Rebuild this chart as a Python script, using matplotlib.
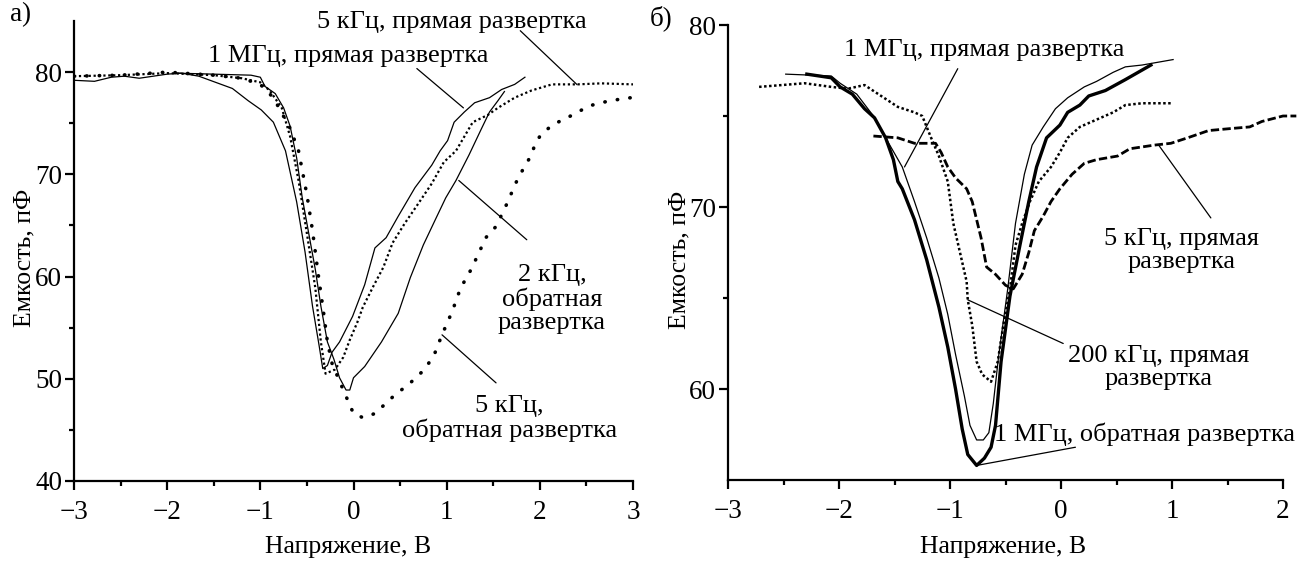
import matplotlib
matplotlib.use("Agg")
import matplotlib.pyplot as plt

plt.rcParams['font.family'] = ['Liberation Serif', 'DejaVu Serif']

# ---------------- Panel a) data ----------------
a_1mhz_fwd_x = [-3.0, -2.78, -2.6, -2.46, -2.3, -2.0, -1.85, -1.66, -1.48, -1.3, -1.13, -0.99, -0.86,
                -0.73, -0.61, -0.52, -0.44, -0.37, -0.33, -0.28, -0.23, -0.15, -0.01, 0.12, 0.23,
                0.35, 0.48, 0.66, 0.84, 0.93, 1.01, 1.08, 1.19, 1.30, 1.46, 1.59, 1.73, 1.84]
a_1mhz_fwd_y = [79.2, 79.1, 79.5, 79.6, 79.4, 79.8, 79.9, 79.6, 79.0, 78.4, 77.2, 76.3, 75.1,
                72.3, 67.3, 62.4, 57.1, 53.3, 51.0, 51.3, 52.6, 53.6, 56.1, 59.2, 62.8,
                63.8, 65.9, 68.7, 70.9, 72.3, 73.3, 75.1, 76.1, 77.0, 77.5, 78.3, 78.8, 79.5]

a_2khz_rev_x = [-1.9, -1.5, -1.1, -1.0, -0.95, -0.84, -0.75, -0.68, -0.61, -0.55, -0.48, -0.41,
                -0.35, -0.28, -0.21, -0.15, -0.08, -0.04, 0.0, 0.12, 0.3, 0.48, 0.61, 0.75, 0.88,
                0.99, 1.10, 1.24, 1.37, 1.46, 1.55, 1.62]
a_2khz_rev_y = [79.9, 79.8, 79.7, 79.5, 78.6, 77.9, 76.5, 74.7, 71.6, 67.7, 64.2, 60.7,
                57.1, 53.6, 51.9, 50.1, 48.9, 48.9, 50.1, 51.2, 53.6, 56.4, 59.9, 63.1, 65.6,
                67.7, 69.4, 71.9, 74.4, 76.1, 77.2, 78.1]

a_5khz_fwd_x = [-3.0, -2.5, -2.0, -1.5, -1.2, -1.0, -0.9, -0.77, -0.68, -0.59, -0.5, -0.41, -0.35,
                -0.3, -0.2, -0.11, -0.04, 0.04, 0.10, 0.21, 0.32, 0.42, 0.55, 0.70, 0.84, 0.97,
                1.1, 1.28, 1.44, 1.55, 1.73, 1.91, 2.13, 2.4, 2.66, 3.0]
a_5khz_fwd_y = [79.6, 79.7, 79.9, 79.7, 79.4, 79.0, 78.2, 76.5, 73.7, 69.4, 64.2, 58.9, 53.6,
                50.5, 50.9, 52.1, 53.8, 55.5, 57.0, 59.0, 60.9, 63.3, 65.2, 67.2, 69.1, 71.2,
                72.3, 75.1, 75.8, 76.5, 77.5, 78.2, 78.8, 78.8, 78.9, 78.8]

a_5khz_rev_x = [-3.0, -2.5, -2.0, -1.5, -1.2, -1.0, -0.86, -0.68, -0.59, -0.50, -0.44, -0.38, -0.32,
                -0.28, -0.23, -0.10, 0.0, 0.1, 0.23, 0.43, 0.61, 0.75, 0.86, 0.95, 1.06, 1.15,
                1.24, 1.33, 1.42, 1.53, 1.64, 1.75, 1.82, 1.91, 1.95, 2.02, 2.15, 2.35, 2.53,
                2.75, 2.98]
a_5khz_rev_y = [79.6, 79.7, 80.0, 79.7, 79.4, 78.8, 77.5, 74.5, 72.3, 68.0, 64.5, 60.3, 56.4,
                53.6, 51.5, 48.7, 46.6, 46.2, 46.6, 48.3, 49.6, 50.8, 52.2, 54.3, 56.6, 58.9,
                60.3, 62.0, 63.8, 64.9, 67.0, 69.3, 70.5, 71.9, 73.0, 74.0, 74.9, 75.8, 76.7,
                77.2, 77.5]

# ---------------- Panel б) data ----------------
b_1mhz_fwd_x = [-2.48, -2.07, -1.99, -1.84, -1.69, -1.58, -1.43, -1.32, -1.21, -1.10, -1.02,
                -0.95, -0.87, -0.82, -0.76, -0.70, -0.65, -0.61, -0.56, -0.48, -0.41, -0.33,
                -0.26, -0.16, -0.05, 0.06, 0.21, 0.32, 0.47, 0.58, 0.73, 1.01]
b_1mhz_fwd_y = [77.3, 77.2, 76.8, 76.2, 75.0, 73.8, 72.2, 70.3, 68.3, 66.1, 64.1,
                61.9, 59.6, 58.0, 57.2, 57.2, 57.6, 59.2, 61.9, 65.5, 69.1, 71.8,
                73.4, 74.4, 75.4, 76.0, 76.6, 76.9, 77.4, 77.7, 77.8, 78.1]

b_1mhz_rev_x = [-2.29, -2.07, -1.99, -1.88, -1.77, -1.68, -1.58, -1.51, -1.47, -1.43, -1.32,
                -1.21, -1.10, -1.02, -0.95, -0.89, -0.84, -0.76, -0.69, -0.63, -0.59, -0.54,
                -0.46, -0.37, -0.29, -0.22, -0.13, -0.01, 0.06, 0.17, 0.25, 0.40, 0.58, 0.81]
b_1mhz_rev_y = [77.3, 77.1, 76.6, 76.2, 75.4, 74.9, 73.8, 72.6, 71.4, 71.0, 69.3,
                67.1, 64.5, 62.3, 60.0, 57.8, 56.4, 55.8, 56.2, 56.8, 58.0, 61.5,
                65.1, 67.9, 70.3, 72.2, 73.8, 74.5, 75.2, 75.6, 76.1, 76.4, 77.0, 77.8]

b_200khz_fwd_x = [-2.72, -2.31, -2.07, -1.92, -1.77, -1.62, -1.47, -1.32, -1.25, -1.17, -1.10,
                  -1.02, -0.97, -0.91, -0.85, -0.84, -0.80, -0.76, -0.71, -0.63, -0.57, -0.52,
                  -0.46, -0.41, -0.35, -0.28, -0.20, -0.09, -0.01, 0.06, 0.17, 0.32, 0.47,
                  0.58, 0.73, 1.01]
b_200khz_fwd_y = [76.6, 76.8, 76.6, 76.5, 76.7, 76.1, 75.5, 75.2, 75.0, 73.8, 72.8,
                  71.4, 69.1, 67.5, 65.9, 64.9, 63.5, 61.5, 60.8, 60.4, 61.5, 63.5,
                  65.5, 67.9, 69.1, 70.3, 71.4, 72.2, 73.0, 73.8, 74.4, 74.8, 75.2,
                  75.6, 75.7, 75.7]

b_5khz_fwd_x = [-1.69, -1.47, -1.32, -1.13, -1.08, -1.02, -0.95, -0.85, -0.80, -0.72, -0.67,
                -0.59, -0.50, -0.43, -0.35, -0.29, -0.24, -0.16, -0.09, -0.01, 0.10, 0.21,
                0.32, 0.51, 0.62, 0.84, 0.99, 1.14, 1.33, 1.51, 1.70, 1.81, 2.0, 2.12]
b_5khz_fwd_y = [73.9, 73.8, 73.5, 73.5, 73.0, 72.2, 71.6, 71.0, 70.3, 68.3, 66.7,
                66.3, 65.7, 65.5, 66.3, 67.5, 68.7, 69.5, 70.3, 71.0, 71.8, 72.4,
                72.6, 72.8, 73.2, 73.4, 73.5, 73.8, 74.2, 74.3, 74.4, 74.7, 75.0, 75.0]

# ---------------- figure ----------------
fig = plt.figure(figsize=(12.99, 5.63), dpi=100)
ax1 = fig.add_axes([74 / 1299, (563 - 481) / 563, 559 / 1299, 460 / 563])
ax2 = fig.add_axes([728 / 1299, (563 - 480) / 563, 555 / 1299, 455 / 563])

TICK_FS = 19.5
LAB_FS = 18.5
ANN_FS = 19


def style(ax):
    for s in ('top', 'right'):
        ax.spines[s].set_visible(False)
    for s in ('left', 'bottom'):
        ax.spines[s].set_linewidth(1.6)
    ax.tick_params(which='major', direction='out', length=6.5, width=1.6,
                   labelsize=TICK_FS)
    ax.tick_params(axis='x', which='major', pad=7)
    ax.tick_params(axis='y', which='major', pad=2)
    ax.tick_params(which='minor', direction='out', length=3.5, width=1.6)
    ax.set_xlabel('Напряжение, В', fontsize=LAB_FS, va='center')
    ax.set_ylabel('Емкость, пФ', fontsize=LAB_FS, va='center')


# Panel a
ax1.plot(a_1mhz_fwd_x, a_1mhz_fwd_y, color='black', lw=0.9)
ax1.plot(a_2khz_rev_x, a_2khz_rev_y, color='black', lw=0.9)
ax1.plot(a_5khz_fwd_x, a_5khz_fwd_y, color='black', lw=1.6, linestyle=(0, (1, 1.2)))
ax1.plot(a_5khz_rev_x, a_5khz_rev_y, color='black', lw=2.6, linestyle=(0, (0.1, 3.4)),
         dash_capstyle='round')
ax1.set_xlim(-3, 3)
ax1.set_ylim(40, 85)
ax1.set_xticks([-3, -2, -1, 0, 1, 2, 3])
ax1.set_xticks([-2.5, -1.5, -0.5, 0.5, 1.5, 2.5], minor=True)
ax1.set_yticks([40, 50, 60, 70, 80])
ax1.set_yticks([45, 55, 65, 75], minor=True)
style(ax1)
ax1.xaxis.set_label_coords(0.49, -0.143)
ax1.yaxis.set_label_coords(-0.088, 0.485)

line_kw = dict(arrowprops=dict(arrowstyle='-', lw=0.9, color='black', shrinkA=0, shrinkB=0),
               annotation_clip=False)
ax1.annotate('', xy=(2.40, 78.77), xytext=(1.79, 84.05), **line_kw)
ax1.annotate('', xy=(1.18, 76.5), xytext=(0.68, 80.35), **line_kw)
ax1.annotate('', xy=(1.13, 69.4), xytext=(1.86, 63.6), **line_kw)
ax1.annotate('', xy=(0.95, 54.3), xytext=(1.53, 49.6), **line_kw)
ax1.text(1.05, 84.9, '5 кГц, прямая развертка', fontsize=ANN_FS, ha='center', va='center',
         clip_on=False)
ax1.text(-0.055, 81.6, '1 МГц, прямая развертка', fontsize=ANN_FS, ha='center', va='center',
         clip_on=False)
ax1.text(2.13, 57.8, '2 кГц,\nобратная\nразвертка', fontsize=ANN_FS, ha='center', va='center',
         linespacing=1.05, clip_on=False)
ax1.text(1.67, 46.1, '5 кГц,\nобратная развертка', fontsize=ANN_FS, ha='center', va='center',
         linespacing=1.05, clip_on=False)

# Panel b
ax2.plot(b_1mhz_fwd_x, b_1mhz_fwd_y, color='black', lw=0.9)
ax2.plot(b_1mhz_rev_x, b_1mhz_rev_y, color='black', lw=2.4)
ax2.plot(b_200khz_fwd_x, b_200khz_fwd_y, color='black', lw=1.8, linestyle=(0, (1, 1.0)))
ax2.plot(b_5khz_fwd_x, b_5khz_fwd_y, color='black', lw=2.0, linestyle=(0, (3, 1.2)),
         clip_on=False)
ax2.set_xlim(-3, 2)
ax2.set_ylim(55, 80)
ax2.set_xticks([-3, -2, -1, 0, 1, 2])
ax2.set_xticks([-2.5, -1.5, -0.5, 0.5, 1.5], minor=True)
ax2.set_yticks([60, 70, 80])
ax2.set_yticks([65, 75], minor=True)
style(ax2)
ax2.xaxis.set_label_coords(0.496, -0.147)
ax2.yaxis.set_label_coords(-0.088, 0.483)

ax2.annotate('', xy=(-1.41, 72.2), xytext=(-0.93, 77.6), **line_kw)
ax2.annotate('', xy=(0.88, 73.4), xytext=(1.35, 69.4), **line_kw)
ax2.annotate('', xy=(-0.84, 64.9), xytext=(0.02, 62.5), **line_kw)
ax2.annotate('', xy=(-0.76, 55.8), xytext=(0.13, 56.8), **line_kw)
ax2.text(-0.69, 78.6, '1 МГц, прямая развертка', fontsize=ANN_FS, ha='center', va='center',
         clip_on=False)
ax2.text(1.09, 67.6, '5 кГц, прямая\nразвертка', fontsize=ANN_FS, ha='center', va='center',
         linespacing=1.05, clip_on=False)
ax2.text(0.88, 61.2, '200 кГц, прямая\nразвертка', fontsize=ANN_FS, ha='center', va='center',
         linespacing=1.05, clip_on=False)
ax2.text(0.75, 57.5, '1 МГц, обратная развертка', fontsize=ANN_FS, ha='center', va='center',
         clip_on=False)

fig.text(21 / 1299, 1 - 15 / 563, 'а)', fontsize=TICK_FS, ha='center', va='center')
fig.text(661 / 1299, 1 - 18 / 563, 'б)', fontsize=TICK_FS, ha='center', va='center')

fig.savefig('out.png', dpi=100)
